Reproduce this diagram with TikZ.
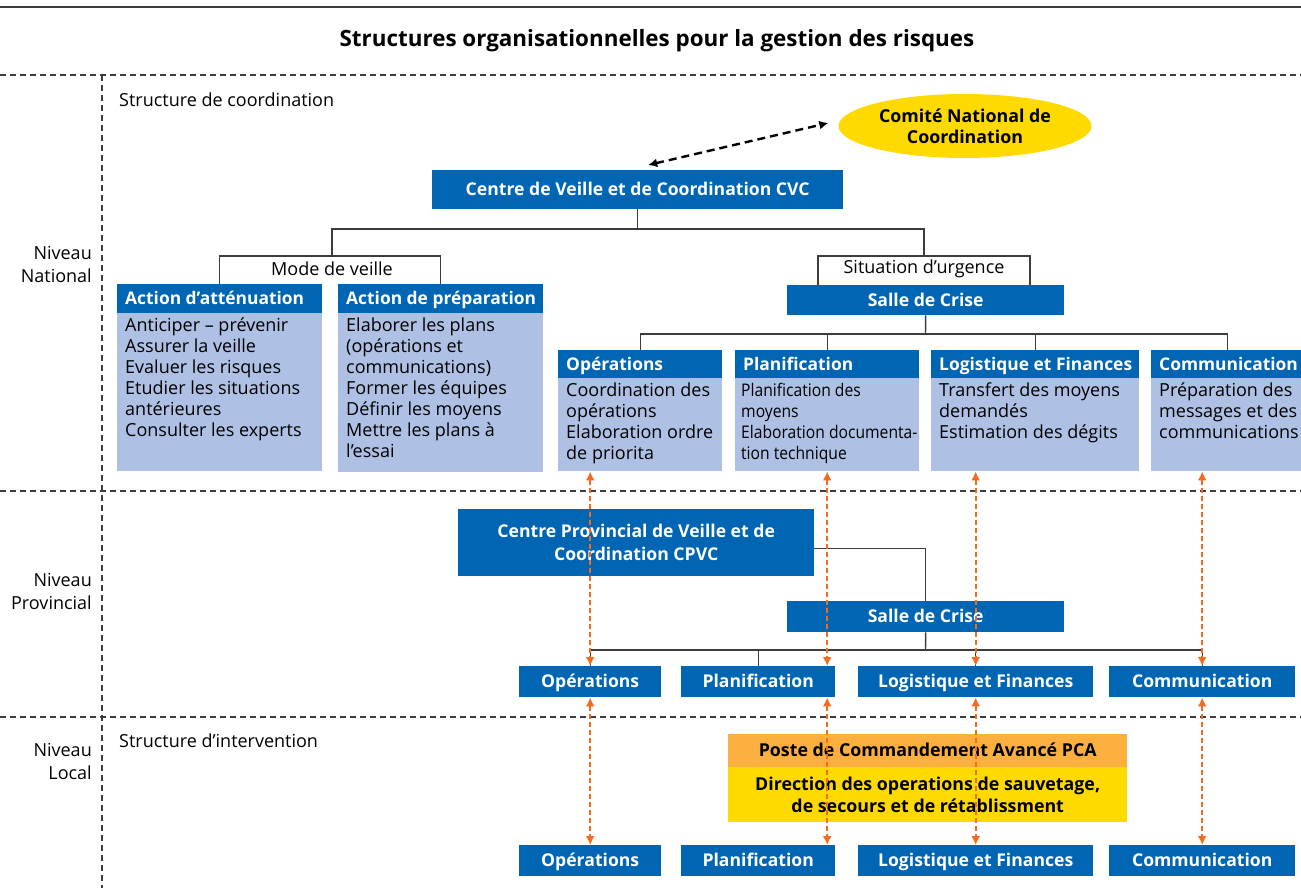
\documentclass[tikz,border=0pt]{standalone}
\usepackage{fontspec}
\setmainfont{Open Sans}
\newfontfamily\condfont[FakeStretch=0.9]{Open Sans}
\usetikzlibrary{arrows.meta,shapes.geometric,calc}
\definecolor{cblue}{RGB}{0,102,179}
\definecolor{cbody}{RGB}{174,192,228}
\definecolor{corange}{RGB}{242,107,33}
\definecolor{cpca}{RGB}{251,175,63}
\definecolor{cyellow}{RGB}{255,218,0}
\definecolor{cline}{RGB}{60,60,60}
\begin{document}
\begin{tikzpicture}[x=1pt,y=-1pt,
  conn/.style={draw=cline, line width=1.4pt},
  sepline/.style={draw=cline, line width=1.1pt, dash pattern=on 6pt off 4pt},
  bbox/.style={fill=cblue, text=white, font=\bfseries\fontsize{17.6}{23}\selectfont, inner sep=0pt, align=center, anchor=north west},
  one/.style={text height=12.5pt, text depth=0.5pt},
  hdrbox/.style={fill=cblue, inner sep=0pt, anchor=north west},
  hdrtxt/.style={text=white, font=\bfseries\fontsize{17.4}{21}\selectfont, inner sep=0pt, anchor=west, text height=12.5pt, text depth=0.5pt},
  bodybox/.style={fill=cbody, inner sep=0pt, anchor=north west},
  bodytxt/.style={font=\fontsize{18}{21}\selectfont, inner sep=0pt, align=left, anchor=north west},
  plain/.style={font=\fontsize{18}{23}\selectfont, inner sep=0pt},
  oarr/.style={draw=corange, line width=2.3pt, dash pattern=on 5pt off 3pt, {Latex[length=9pt,width=9pt]}-{Latex[length=9pt,width=9pt]}},
  karr/.style={draw=black, line width=2.4pt, dash pattern=on 8pt off 5pt, {Latex[length=9pt,width=9pt]}-{Latex[length=9pt,width=9pt]}}
]
\useasboundingbox (0,0) rectangle (1301,888);
% frame lines
\draw[cline, line width=2pt] (0,7) -- (1301,7);
\node[font=\bfseries\fontsize{22.4}{26}\selectfont, inner sep=0pt] (title) at (657,41) {Structures organisationnelles pour la gestion des risques};
\draw[sepline] (0,75) -- (1301,75);
\draw[sepline] (0,491) -- (1301,491);
\draw[sepline] (0,717) -- (1301,717);
\draw[sepline] (102,75) -- (102,888);

% side labels
\node[plain, align=right, anchor=east] (nnat) at (92,264.5) {Niveau\\National};
\node[plain, align=right, anchor=east] (nprov) at (92,591.5) {Niveau\\Provincial};
\node[plain, align=right, anchor=east] (nloc) at (92,761) {Niveau\\Local};
\node[plain, anchor=west] (scoord) at (119,100) {Structure de coordination};
\node[plain, anchor=west] (sinter) at (119,741) {Structure d’intervention};

% national level
\node[ellipse, fill=cyellow, minimum width=253pt, minimum height=64pt, inner sep=0pt, align=center, font=\bfseries\fontsize{17.8}{21}\selectfont] (cnc) at (965,126) {Comité National de\\Coordination};
\node[bbox, one, minimum width=411pt, minimum height=39pt] (cvc) at (432,170) {Centre de Veille et de Coordination CVC};

\node[plain] (mode) at (332,269) {Mode de veille};
\node[plain] (urg) at (924,269) {Situation d’urgence};
\coordinate (mv) at (332,256);
\coordinate (su) at (924,256);
\coordinate (sl) at (818,285);
\coordinate (sr) at (1030,285);

\node[hdrbox, minimum width=205pt, minimum height=29pt] (attH) at (117,284) {};
\node[hdrtxt] (attHt) at ($(attH.west)+(8,0)$) {Action d’atténuation};
\node[bodybox, minimum width=205pt, minimum height=158pt] (attB) at (117,313) {};
\node[bodytxt] (attT) at ($(attB.north west)+(8,5)$) {Anticiper – prévenir\\Assurer la veille\\Evaluer les risques\\Etudier les situations\\antérieures\\Consulter les experts};

\node[hdrbox, minimum width=205pt, minimum height=29pt] (prepH) at (338,284) {};
\node[hdrtxt] (prepHt) at ($(prepH.west)+(8,0)$) {Action de préparation};
\node[bodybox, minimum width=205pt, minimum height=159pt] (prepB) at (338,313) {};
\node[bodytxt] (prepT) at ($(prepB.north west)+(8,5)$) {Elaborer les plans\\(opérations et\\communications)\\Former les équipes\\Définir les moyens\\Mettre les plans à\\l’essai};

\node[bbox, one, minimum width=277pt, minimum height=30pt] (salle) at (787,285) {Salle de Crise};

\node[hdrbox, minimum width=164pt, minimum height=28pt] (opsH) at (558,350) {};
\node[hdrtxt] (opsHt) at ($(opsH.west)+(8,0)$) {Opérations};
\node[bodybox, minimum width=164pt, minimum height=93pt] (opsB) at (558,378) {};
\node[bodytxt] (opsT) at ($(opsB.north west)+(8,5)$) {Coordination des\\opérations\\Elaboration ordre\\de priorita};

\node[hdrbox, minimum width=184pt, minimum height=28pt] (planH) at (735,350) {};
\node[hdrtxt] (planHt) at ($(planH.west)+(8,0)$) {Planification};
\node[bodybox, minimum width=184pt, minimum height=93pt] (planB) at (735,378) {};
\node[bodytxt, font=\condfont\fontsize{17.4}{21}\selectfont] (planT) at ($(planB.north west)+(6,5)$) {Planification des\\moyens\\Elaboration documenta-\\tion technique};

\node[hdrbox, minimum width=208pt, minimum height=28pt] (logH) at (931,350) {};
\node[hdrtxt] (logHt) at ($(logH.west)+(8,0)$) {Logistique et Finances};
\node[bodybox, minimum width=208pt, minimum height=93pt] (logB) at (931,378) {};
\node[bodytxt] (logT) at ($(logB.north west)+(8,5)$) {Transfert des moyens\\demandés\\Estimation des dégits};

\node[hdrbox, minimum width=152pt, minimum height=28pt] (commH) at (1151,350) {};
\node[hdrtxt] (commHt) at ($(commH.west)+(8,0)$) {Communication};
\node[bodybox, minimum width=152pt, minimum height=93pt] (commB) at (1151,378) {};
\node[bodytxt] (commT) at ($(commB.north west)+(8,5)$) {Préparation des\\messages et des\\communications};

% national connectors
\draw[conn] (cvc.south) -- ++(0,20);
\draw[conn] (mv) -- ++(0,-27) -| (su);
\draw[conn] (attH.north) |- (mv) -| (prepH.north);
\draw[conn] (sl) |- (su) -| (sr);
\coordinate (sb) at (925.5,334);
\draw[conn] (salle.south) -- (sb);
\draw[conn] (opsH.north) |- (sb) -| (commH.north);
\draw[conn] (planH.north) -- (planH.north |- sb);
\draw[conn] (logH.north) -- (logH.north |- sb);
\draw[karr] ($(cvc.north)+(10.5,-5)$) -- ($(cnc.west)+(-10,-3)$);

% provincial level
\node[bbox, minimum width=356pt, minimum height=67pt] (cpvc) at (458,509) {Centre Provincial de Veille et de\\Coordination CPVC};
\node[bbox, one, minimum width=277pt, minimum height=31pt] (psalle) at (787,601) {Salle de Crise};
\node[bbox, one, minimum width=142pt, minimum height=31pt] (pops) at (519,666) {Opérations};
\node[bbox, one, minimum width=154pt, minimum height=31pt] (pplan) at (681,666) {Planification};
\node[bbox, one, minimum width=235pt, minimum height=31pt] (plog) at (858,666) {Logistique et Finances};
\node[bbox, one, minimum width=186pt, minimum height=31pt] (pcomm) at (1109,666) {Communication};
\draw[conn] (cpvc.east) ++(0,5.5) -| (psalle.north);
\coordinate (pb) at (925.5,650);
\draw[conn] (psalle.south) -- (pb);
\draw[conn] (pops.north) |- (pb) -| (pcomm.north);
\draw[conn] (pplan.north) -- (pplan.north |- pb);
\draw[conn] (plog.north) -- (plog.north |- pb);

% local level
\node[fill=cpca, minimum width=399pt, minimum height=33pt, inner sep=0pt, anchor=north west, text height=12.5pt, text depth=0.5pt, font=\bfseries\fontsize{17.8}{22}\selectfont] (pcaH) at (728,734) {Poste de Commandement Avancé PCA};
\node[fill=cyellow, minimum width=399pt, minimum height=55pt, inner sep=0pt, anchor=north west, align=center, font=\bfseries\fontsize{17.8}{22}\selectfont] (pcaB) at (728,767) {Direction des operations de sauvetage,\\de secours et de rétablissment};
\node[bbox, one, minimum width=142pt, minimum height=31pt] (lops) at (519,845) {Opérations};
\node[bbox, one, minimum width=154pt, minimum height=31pt] (lplan) at (681,845) {Planification};
\node[bbox, one, minimum width=235pt, minimum height=31pt] (llog) at (858,845) {Logistique et Finances};
\node[bbox, one, minimum width=186pt, minimum height=31pt] (lcomm) at (1109,845) {Communication};

% orange links
\draw[oarr] (pops.north |- opsB.south) -- (pops.north);
\draw[oarr] (planB.south) -- (planB.south |- pplan.north);
\draw[oarr] (plog.north |- logB.south) -- (plog.north);
\draw[oarr] (pcomm.north |- commB.south) -- (pcomm.north);
\draw[oarr] (pops.south) -- (lops.north);
\draw[oarr] (pplan.south -| planB.south) -- (lplan.north -| planB.south);
\draw[oarr] (plog.south) -- (llog.north);
\draw[oarr] (pcomm.south) -- (lcomm.north);
\end{tikzpicture}
\end{document}
